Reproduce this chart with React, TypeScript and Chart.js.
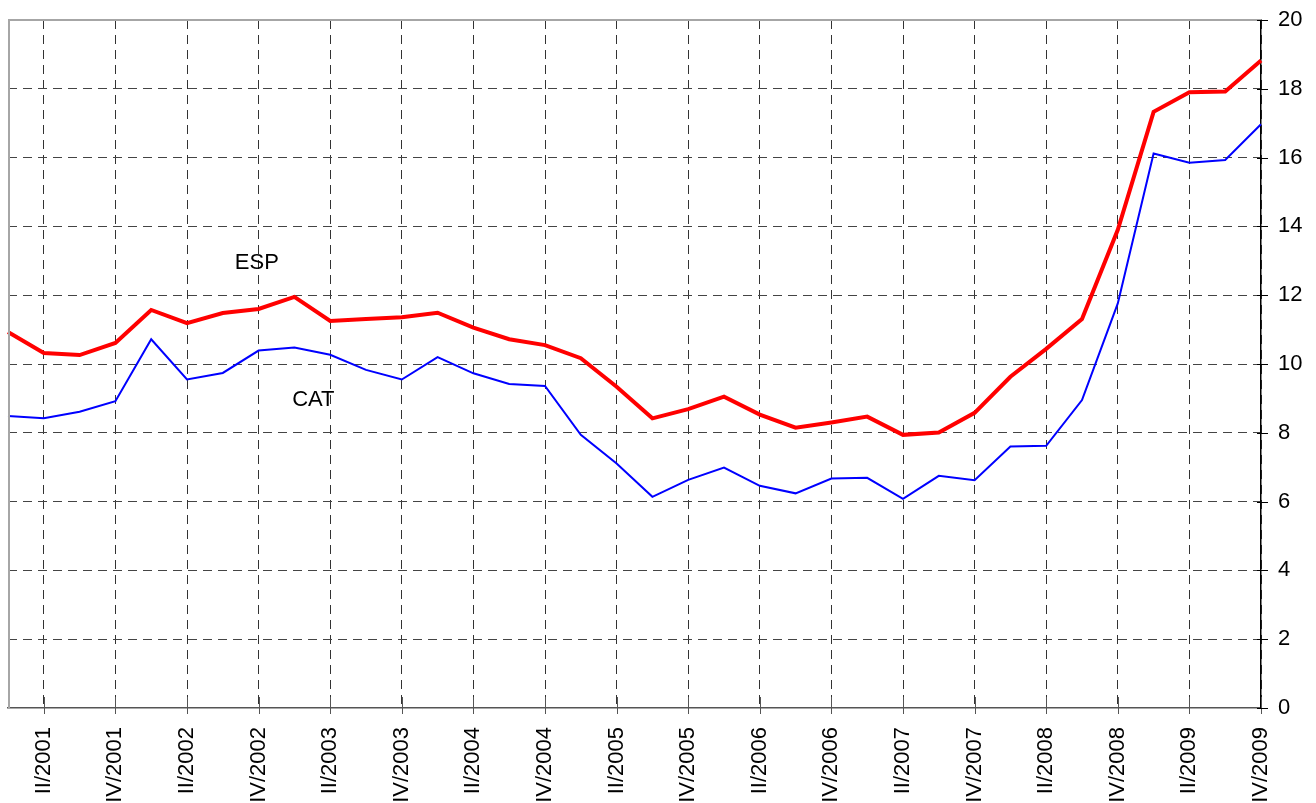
import React, { useEffect, useRef } from "react";
import { Chart, registerables } from "chart.js";

Chart.register(...registerables);

const categories = [
  "I/2001", "II/2001", "III/2001", "IV/2001",
  "I/2002", "II/2002", "III/2002", "IV/2002",
  "I/2003", "II/2003", "III/2003", "IV/2003",
  "I/2004", "II/2004", "III/2004", "IV/2004",
  "I/2005", "II/2005", "III/2005", "IV/2005",
  "I/2006", "II/2006", "III/2006", "IV/2006",
  "I/2007", "II/2007", "III/2007", "IV/2007",
  "I/2008", "II/2008", "III/2008", "IV/2008",
  "I/2009", "II/2009", "III/2009", "IV/2009",
];

const espValues = [
  10.93, 10.32, 10.26, 10.61, 11.57, 11.19, 11.48, 11.6, 11.95, 11.25, 11.31, 11.36,
  11.49, 11.06, 10.72, 10.55, 10.17, 9.34, 8.42, 8.69, 9.05, 8.53, 8.15, 8.3,
  8.47, 7.94, 8.01, 8.58, 9.63, 10.44, 11.31, 13.9, 17.33, 17.9, 17.92, 18.82,
];

const catValues = [
  8.49, 8.42, 8.61, 8.92, 10.72, 9.55, 9.74, 10.39, 10.48, 10.27, 9.83, 9.55,
  10.2, 9.73, 9.42, 9.36, 7.94, 7.11, 6.14, 6.63, 6.99, 6.46, 6.24, 6.67,
  6.69, 6.08, 6.75, 6.62, 7.6, 7.62, 8.95, 11.76, 16.12, 15.85, 15.93, 16.97,
];

const yMin = 0;
const yMax = 20;
const yStep = 2;

const annotationTexts = ["ESP", "CAT"];
const annotationX = [6.95, 8.53];
const annotationY = [12.93, 8.95];

const FONT = "'Liberation Sans', Arial, sans-serif";

const decorPlugin = {
  id: "decor",
  afterDraw(chart: any) {
    const { ctx, chartArea, scales } = chart;
    const xs = scales.x;
    const ys = scales.y;
    ctx.save();
    ctx.strokeStyle = "#a6a6a6";
    ctx.lineWidth = 2;
    ctx.setLineDash([]);
    ctx.beginPath();
    ctx.moveTo(chartArea.left + 1, chartArea.bottom);
    ctx.lineTo(chartArea.left + 1, chartArea.top);
    ctx.lineTo(chartArea.right, chartArea.top);
    ctx.stroke();
    ctx.strokeStyle = "#555";
    ctx.lineWidth = 1;
    for (let i = 1; i < categories.length; i += 2) {
      const x = Math.round(xs.getPixelForValue(i)) + 0.5;
      ctx.beginPath();
      ctx.moveTo(x, chartArea.bottom - 11);
      ctx.lineTo(x, chartArea.bottom + 6);
      ctx.stroke();
    }
    ctx.strokeStyle = "#000";
    for (let v = yMin; v <= yMax; v += yStep) {
      const y = Math.round(ys.getPixelForValue(v)) + 0.5;
      ctx.beginPath();
      ctx.moveTo(chartArea.right - 4, y);
      ctx.lineTo(chartArea.right + 7, y);
      ctx.stroke();
    }
    ctx.fillStyle = "#000";
    ctx.font = `22px ${FONT}`;
    ctx.textAlign = "center";
    ctx.textBaseline = "middle";
    annotationTexts.forEach((t, i) => {
      ctx.fillText(t, xs.getPixelForValue(annotationX[i]), ys.getPixelForValue(annotationY[i]));
    });
    ctx.restore();
  },
};

export default function App() {
  const ref = useRef<HTMLCanvasElement | null>(null);
  useEffect(() => {
    if (!ref.current) return;
    const chart = new Chart(ref.current, {
      type: "line",
      data: {
        labels: categories,
        datasets: [
          {
            label: "CAT",
            data: catValues,
            borderColor: "#0000ff",
            borderWidth: 2,
            pointRadius: 0,
            tension: 0,
          },
          {
            label: "ESP",
            data: espValues,
            borderColor: "#ff0000",
            borderWidth: 4,
            pointRadius: 0,
            tension: 0,
          },
        ],
      },
      options: {
        animation: false,
        responsive: false,
        maintainAspectRatio: false,
        layout: { padding: { left: 8, top: 20, right: 0, bottom: 0 } },
        plugins: {
          legend: { display: false },
          tooltip: { enabled: false },
        },
        scales: {
          x: {
            type: "category",
            offset: false,
            afterFit: (s: any) => {
              s.height = 95;
              s.paddingLeft = 0;
              s.paddingRight = 0;
            },
            grid: {
              drawTicks: false,
              lineWidth: 1,
              color: (c: any) => (c.index % 2 === 1 ? "#333" : "transparent"),
            },
            border: { display: true, color: "#555", width: 1.5, dash: [9, 6] },
            ticks: {
              autoSkip: false,
              minRotation: 90,
              maxRotation: 90,
              padding: 19,
              color: "#000",
              font: { family: FONT, size: 22 },
              callback: function (this: any, value: any, index: number) {
                return index % 2 === 1 ? categories[index] : "";
              },
            },
          },
          y: {
            position: "right",
            min: yMin,
            max: yMax,
            afterFit: (s: any) => {
              s.width = 55;
              s.paddingTop = 0;
              s.paddingBottom = 0;
            },
            grid: {
              drawTicks: false,
              lineWidth: 1,
              color: (c: any) =>
                c.tick && (c.tick.value === yMin || c.tick.value === yMax) ? "transparent" : "#444",
            },
            border: { display: true, color: "#000", width: 1.5, dash: [9, 6] },
            ticks: {
              stepSize: yStep,
              padding: 17,
              color: "#000",
              font: { family: FONT, size: 22 },
            },
          },
        },
      },
      plugins: [decorPlugin],
    });
    return () => chart.destroy();
  }, []);
  return (
    <div style={{ position: "fixed", left: 0, top: 0, width: 1316, height: 803 }}>
      <canvas ref={ref} width={1316} height={803} style={{ width: 1316, height: 803 }} />
    </div>
  );
}
